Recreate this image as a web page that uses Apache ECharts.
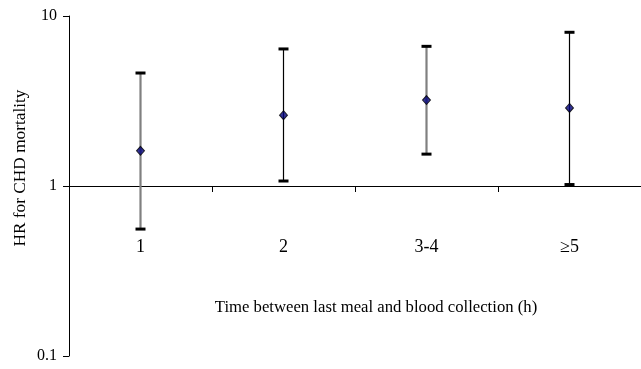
<!DOCTYPE html>
<html>
<head>
<meta charset="utf-8">
<script src="https://cdn.jsdelivr.net/npm/echarts@6/dist/echarts.min.js"></script>
<style>html,body{margin:0;padding:0;background:#fff}#c{width:641px;height:369px}</style>
</head>
<body>
<div id="c"></div>
<script>
const categories = ['1', '2', '3-4', '\u22655'];
const hr = [1.61, 2.61, 3.2, 2.88];
const lower = [0.558, 1.07, 1.54, 1.02];
const upper = [4.62, 6.4, 6.63, 8.02];

const whiskerColors = ['#808080', '#000000', '#808080', '#000000'];
const FONT = '"Liberation Serif", "Times New Roman", serif';

const chart = echarts.init(document.getElementById('c'), null, {renderer: 'canvas'});
chart.setOption({
  animation: false,
  grid: {left: 69, right: 0, top: 16, bottom: 13, containLabel: false},
  xAxis: {
    type: 'category',
    data: categories,
    position: 'bottom',
    offset: -170,
    boundaryGap: true,
    axisLine: {show: true, onZero: false, lineStyle: {color: '#000', width: 1}},
    axisTick: {show: true, length: 6, lineStyle: {color: '#000'}},
    axisLabel: {margin: 52, color: '#000', fontFamily: FONT, fontSize: 18},
    splitLine: {show: false}
  },
  yAxis: {
    type: 'log',
    logBase: 10,
    min: 0.1,
    max: 10,
    axisLine: {show: true, lineStyle: {color: '#000', width: 1}},
    axisTick: {show: true, length: 6, inside: false, lineStyle: {color: '#000'}},
    axisLabel: {margin: 12, color: '#000', fontFamily: FONT, fontSize: 16,
      formatter: v => String(v)},
    splitLine: {show: false},
    minorTick: {show: false}
  },
  graphic: [
    {type: 'text', silent: true, z: 10, x: 376, y: 308,
      style: {text: 'Time between last meal and blood collection (h)', fill: '#000',
        font: '16.7px ' + FONT, align: 'center', verticalAlign: 'middle'}},
    {type: 'text', silent: true, z: 10, x: 20, y: 168, rotation: Math.PI / 2,
      style: {text: 'HR for CHD mortality', fill: '#000',
        font: '17.3px ' + FONT, align: 'center', verticalAlign: 'middle'}}
  ],
  series: [
    {
      type: 'custom',
      data: categories.map((c, i) => [i, lower[i], upper[i]]),
      renderItem: function (params, api) {
        const i = api.value(0);
        const lo = api.coord([i, api.value(1)]);
        const hi = api.coord([i, api.value(2)]);
        const hw = 5;
        const col = whiskerColors[params.dataIndex];
        return {
          type: 'group',
          children: [
            {type: 'line', shape: {x1: lo[0], y1: lo[1], x2: hi[0], y2: hi[1]},
              style: {stroke: col, lineWidth: col === '#000000' ? 1.2 : 2.2}},
            {type: 'line', shape: {x1: hi[0] - hw, y1: hi[1], x2: hi[0] + hw, y2: hi[1]},
              style: {stroke: '#000', lineWidth: 3}},
            {type: 'line', shape: {x1: lo[0] - hw, y1: lo[1], x2: lo[0] + hw, y2: lo[1]},
              style: {stroke: '#000', lineWidth: 3}}
          ]
        };
      },
      z: 2
    },
    {
      type: 'scatter',
      data: categories.map((c, i) => [i, hr[i]]),
      symbol: 'diamond',
      symbolSize: [8, 9],
      itemStyle: {color: '#00007a', borderColor: '#000', borderWidth: 1},
      z: 3
    }
  ]
});
</script>
</body>
</html>
